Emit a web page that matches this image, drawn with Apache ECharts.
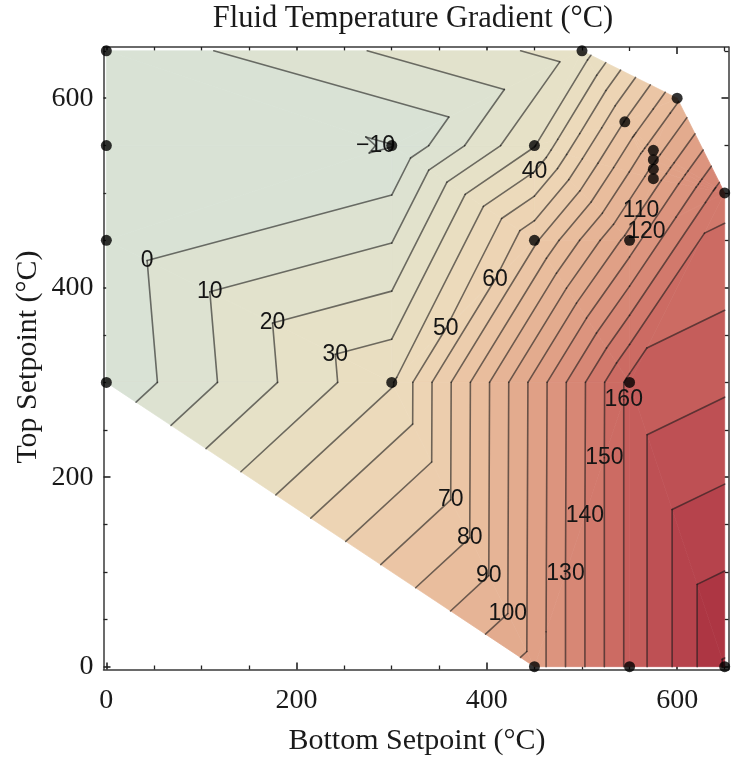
<!DOCTYPE html>
<html><head><meta charset="utf-8">
<script src="https://cdn.jsdelivr.net/npm/echarts@6/dist/echarts.min.js"></script>
<style>html,body{margin:0;padding:0;background:#fff}#c{width:731px;height:758px}</style>
</head><body><div id="c"></div>
<script>
const pointX = [0, 0, 0, 0, 300, 300, 450, 450, 450, 500, 545, 550, 550, 550, 575, 575, 575, 575, 600, 650, 650];
const pointY = [650, 550, 450, 300, 550, 300, 550, 450, 0, 650, 575, 450, 300, 0, 545, 535, 525, 515, 600, 500, 0];
const pointValue = [-7, -5, -6.5, -8.5, -10.3, 39, 29.4, 68, 114, 24, 70.5, 114.3, 163, 163, 95, 98.5, 101.8, 105.4, 88, 146.5, 201];
const contourLevels = [-10, 0, 10, 20, 30, 40, 50, 60, 70, 80, 90, 100, 110, 120, 130, 140, 150, 160, 170, 180, 190, 200];
// contour labels: [level, point A, point B] - label sits where the level crosses segment A-B
const contourLabelLevels = [-10, 0, 10, 20, 30, 40, 50, 60, 70, 80, 90, 100, 110, 120, 130, 140, 150, 160];
const contourLabelEdgeA = [4, 2, 2, 2, 2, 6, 5, 5, 5, 5, 5, 5, 11, 11, 8, 8, 8, 8];
const contourLabelEdgeB = [1, 5, 5, 5, 5, 7, 7, 7, 8, 8, 8, 8, 17, 19, 12, 12, 12, 12];
const xTickLabels = [0, 200, 400, 600];
const yTickLabels = [0, 200, 400, 600];
const xMinorTicks = [50, 100, 150, 250, 300, 350, 450, 500, 550, 650];
const yMinorTicks = [50, 100, 150, 250, 300, 350, 450, 500, 550, 650];

// ---- colour ramp (style) ----
const rampStops = [[-15,[214,225,216]],[0,[219,226,211]],[20,[228,226,202]],[40,[235,221,190]],[60,[237,209,177]],[80,[234,193,161]],[100,[229,176,146]],[120,[222,154,130]],[140,[213,128,112]],[160,[201,100,95]],[180,[186,73,80]],[200,[169,48,63]],[215,[158,36,55]]];
function rampColor(v){
  if (v <= rampStops[0][0]) return 'rgb(' + rampStops[0][1].join(',') + ')';
  for (let i = 1; i < rampStops.length; i++) {
    if (v <= rampStops[i][0]) {
      const a = rampStops[i-1], b = rampStops[i];
      const t = (v - a[0]) / (b[0] - a[0]);
      const c = a[1].map((x, k) => Math.round(x + t * (b[1][k] - x)));
      return 'rgb(' + c.join(',') + ')';
    }
  }
  return 'rgb(' + rampStops[rampStops.length-1][1].join(',') + ')';
}

// ---- Delaunay triangulation (Bowyer-Watson) of the measurement points ----
function triangulate(xs, ys){
  const pts = xs.map((x, i) => [x, ys[i]]);
  const n = pts.length;
  let minX = Math.min(...xs), maxX = Math.max(...xs), minY = Math.min(...ys), maxY = Math.max(...ys);
  const dm = Math.max(maxX - minX, maxY - minY), mx = (minX + maxX) / 2, my = (minY + maxY) / 2;
  pts.push([mx - 60 * dm, my - 40 * dm], [mx, my + 60 * dm], [mx + 60 * dm, my - 40 * dm]);
  function circ(t){
    const [ax, ay] = pts[t[0]], [bx, by] = pts[t[1]], [cx, cy] = pts[t[2]];
    const d = 2 * (ax * (by - cy) + bx * (cy - ay) + cx * (ay - by));
    const ux = ((ax*ax + ay*ay) * (by - cy) + (bx*bx + by*by) * (cy - ay) + (cx*cx + cy*cy) * (ay - by)) / d;
    const uy = ((ax*ax + ay*ay) * (cx - bx) + (bx*bx + by*by) * (ax - cx) + (cx*cx + cy*cy) * (bx - ax)) / d;
    return [ux, uy, (ax - ux) * (ax - ux) + (ay - uy) * (ay - uy)];
  }
  let tris = [[n, n + 1, n + 2]];
  tris[0].c = circ(tris[0]);
  for (let p = 0; p < n; p++) {
    const [x, y] = pts[p];
    const bad = [], good = [];
    for (const t of tris) {
      const c = t.c;
      ((x - c[0]) * (x - c[0]) + (y - c[1]) * (y - c[1]) < c[2] * (1 - 1e-12) ? bad : good).push(t);
    }
    const edgeCount = {};
    const edgeList = [];
    for (const t of bad) {
      for (const [a, b] of [[t[0], t[1]], [t[1], t[2]], [t[2], t[0]]]) {
        const key = Math.min(a, b) + '_' + Math.max(a, b);
        if (edgeCount[key]) edgeCount[key]++; else { edgeCount[key] = 1; edgeList.push([a, b, key]); }
      }
    }
    tris = good;
    for (const [a, b, key] of edgeList) {
      if (edgeCount[key] === 1) {
        const t = [a, b, p];
        t.c = circ(t);
        tris.push(t);
      }
    }
  }
  return tris.filter(t => t.every(v => v < n)).filter(t => {
    const [ax, ay] = pts[t[0]], [bx, by] = pts[t[1]], [cx, cy] = pts[t[2]];
    return Math.abs((bx - ax) * (cy - ay) - (by - ay) * (cx - ax)) > 1e-6;
  }).map(t => [t[0], t[1], t[2]]);
}
const triangles = triangulate(pointX, pointY);

function vert(i){ return [pointX[i], pointY[i], pointValue[i]]; }
function clipPoly(poly, f){
  const out = [];
  for (let a = 0; a < poly.length; a++) {
    const P = poly[a], Q = poly[(a + 1) % poly.length];
    const fp = f(P), fq = f(Q);
    if (fp >= 0) out.push(P);
    if ((fp >= 0) !== (fq >= 0)) {
      const t = fp / (fp - fq);
      out.push([P[0] + t * (Q[0] - P[0]), P[1] + t * (Q[1] - P[1]), P[2] + t * (Q[2] - P[2])]);
    }
  }
  return out;
}

const chart = echarts.init(document.getElementById('c'), null, {renderer: 'canvas'});
const serif = 'Liberation Serif';
const axisCommon = {type: 'value', min: -3, max: 654, splitLine: {show: false}};
function majorAxis(pos, labels, showLabel, isY){
  return Object.assign({}, axisCommon, {
    position: pos,
    axisLine: {show: true, onZero: false, lineStyle: {color: '#3a3a3a', width: 1.5}},
    axisTick: {show: true, inside: true, length: 7, customValues: labels, lineStyle: {color: '#222', width: 1.6}},
    axisLabel: {show: showLabel, customValues: labels, fontFamily: serif, fontSize: 28, color: '#1a1a1a', margin: isY ? 10 : 17},
  });
}
function minorAxis(pos, ticks){
  return Object.assign({}, axisCommon, {
    position: pos,
    axisLine: {show: false, onZero: false},
    axisTick: {show: true, inside: true, length: 4, customValues: ticks, lineStyle: {color: '#222', width: 1.3}},
    axisLabel: {show: false},
  });
}

const option = {
  animation: false,
  backgroundColor: '#fff',
  grid: {left: 103.5, right: 2.5, top: 47, bottom: 88.5, containLabel: false},
  xAxis: [majorAxis('bottom', xTickLabels, true, false), minorAxis('bottom', xMinorTicks), majorAxis('top', xTickLabels, false, false), minorAxis('top', xMinorTicks)],
  yAxis: [majorAxis('left', yTickLabels, true, true), minorAxis('left', yMinorTicks), majorAxis('right', yTickLabels, false, true), minorAxis('right', yMinorTicks)],
  graphic: [
    {type: 'text', x: 413, y: 19, style: {text: 'Fluid Temperature Gradient (°C)', font: '30.5px "Liberation Serif"', fill: '#1a1a1a', align: 'center', verticalAlign: 'middle'}},
    {type: 'text', x: 417, y: 741, style: {text: 'Bottom Setpoint (°C)', font: '30px "Liberation Serif"', fill: '#1a1a1a', align: 'center', verticalAlign: 'middle'}},
    {type: 'text', x: 28, y: 357, rotation: Math.PI / 2, style: {text: 'Top Setpoint (°C)', font: '30px "Liberation Serif"', fill: '#1a1a1a', align: 'center', verticalAlign: 'middle'}}
  ],
  series: [
    {
      type: 'custom', name: 'fill', silent: true, clip: false, z: 1,
      xAxisIndex: 0, yAxisIndex: 0,
      data: triangles,
      renderItem: function(params, api){
        const t = triangles[params.dataIndex];
        const V = [vert(t[0]), vert(t[1]), vert(t[2])];
        const children = [];
        for (let b = 0; b <= contourLevels.length; b++) {
          const lo = b === 0 ? -Infinity : contourLevels[b - 1];
          const hi = b === contourLevels.length ? Infinity : contourLevels[b];
          let poly = V;
          if (lo > -Infinity) poly = clipPoly(poly, p => p[2] - lo);
          if (hi < Infinity && poly.length) poly = clipPoly(poly, p => hi - p[2]);
          if (poly.length >= 3) {
            const mid = b === 0 ? -15 : (hi === Infinity ? 210 : (lo + hi) / 2);
            const col = rampColor(mid);
            children.push({type: 'polygon', shape: {points: poly.map(p => api.coord([p[0], p[1]]))}, style: {fill: col, stroke: col, lineWidth: 0.7}});
          }
        }
        return {type: 'group', children: children};
      }
    },
    {
      type: 'custom', name: 'lines', silent: true, clip: false, z: 2,
      xAxisIndex: 0, yAxisIndex: 0,
      data: triangles,
      renderItem: function(params, api){
        const t = triangles[params.dataIndex];
        const V = [vert(t[0]), vert(t[1]), vert(t[2])];
        const children = [];
        for (const L of contourLevels) {
          const pts = [];
          for (const [a, b] of [[0, 1], [1, 2], [2, 0]]) {
            const va = V[a][2] - L, vb = V[b][2] - L;
            if ((va < 0 && vb >= 0) || (va >= 0 && vb < 0)) {
              const s = va / (va - vb);
              pts.push(api.coord([V[a][0] + s * (V[b][0] - V[a][0]), V[a][1] + s * (V[b][1] - V[a][1])]));
            }
          }
          if (pts.length === 2) {
            children.push({type: 'line', shape: {x1: pts[0][0], y1: pts[0][1], x2: pts[1][0], y2: pts[1][1]}, style: {stroke: 'rgba(25,25,25,0.6)', lineWidth: 1.6, lineCap: 'round'}});
          }
        }
        return {type: 'group', children: children};
      }
    },
    {
      type: 'custom', name: 'labels', silent: true, clip: false, z: 3,
      xAxisIndex: 0, yAxisIndex: 0,
      data: contourLabelLevels.map((l, i) => [l, i]),
      renderItem: function(params, api){
        const i = params.dataIndex;
        const L = contourLabelLevels[i];
        const A = vert(contourLabelEdgeA[i]), B = vert(contourLabelEdgeB[i]);
        const s = (L - A[2]) / (B[2] - A[2]);
        const p = api.coord([A[0] + s * (B[0] - A[0]), A[1] + s * (B[1] - A[1])]);
        const txt = L < 0 ? '\u2212' + Math.abs(L) : String(L);
        return {type: 'text', x: p[0], y: p[1], style: {text: txt, font: '23px "Liberation Sans"', fill: '#151515', align: 'center', verticalAlign: 'middle'}};
      }
    },
    {
      type: 'scatter', name: 'points', z: 4, xAxisIndex: 0, yAxisIndex: 0,
      symbolSize: 11, itemStyle: {color: '#000'}, silent: true,
      data: pointX.map((x, i) => [x, pointY[i]])
    }
  ]
};
chart.setOption(option);
</script>
</body></html>
